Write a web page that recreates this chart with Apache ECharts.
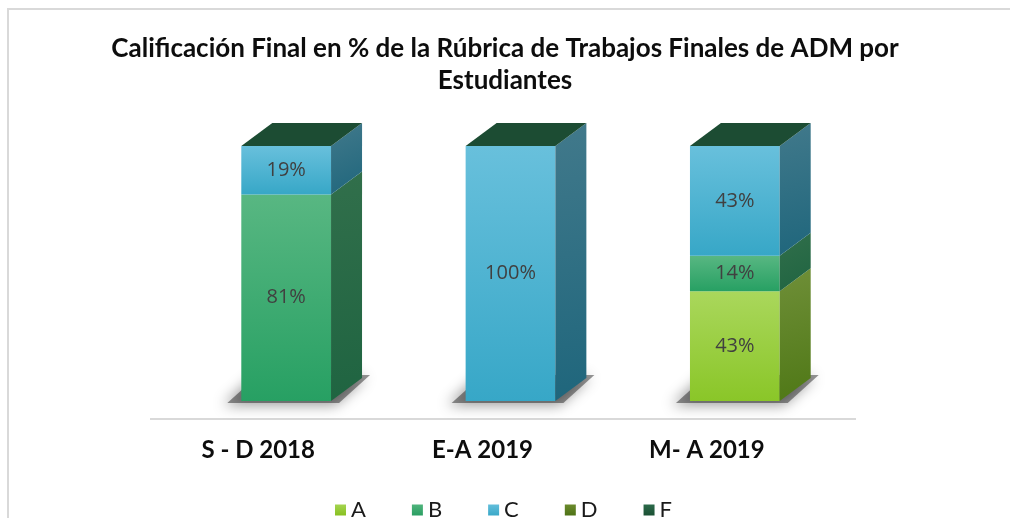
<!DOCTYPE html>
<html>
<head>
<meta charset="utf-8">
<script src="https://cdn.jsdelivr.net/npm/echarts@6/dist/echarts.min.js"></script>
<style>
  html, body { margin: 0; padding: 0; background: #fff; }
  #chart { width: 1010px; height: 518px; }
</style>
</head>
<body>
<div id="chart"></div>
<script>
// datos
const categories = ['S - D 2018', 'E-A 2019', 'M- A 2019'];
const seriesNames = ['A', 'B', 'C', 'D', 'F'];
const valuesA = [0, 0, 43];
const valuesB = [81, 0, 14];
const valuesC = [19, 100, 43];
const valuesD = [0, 0, 0];
const valuesF = [0, 0, 0];
const yTicks = [0, 100];

const allValues = [valuesA, valuesB, valuesC, valuesD, valuesF];

// colores: cara frontal (arriba, abajo), lateral (arriba, abajo), tapa
const palette = [
  { front: ['#aad75c', '#8ac628'], side: ['#6f8f38', '#4f7816'], top: '#6d8f2a', legend: ['#a4d450', '#88c020'] },
  { front: ['#58b782', '#27a063'], side: ['#316f4b', '#1f6441'], top: '#1f6a44', legend: ['#4fb47c', '#2a9e62'] },
  { front: ['#68c0dc', '#37a7c7'], side: ['#41798b', '#1f667c'], top: '#2c6f84', legend: ['#62bedb', '#3aa8c8'] },
  { front: ['#6a8a2c', '#4d7016'], side: ['#4b6a1c', '#3b5810'], top: '#4f6e1a', legend: ['#6b8a2c', '#4e7216'] },
  { front: ['#2a6848', '#1d5238'], side: ['#1c4d34', '#163f2b'], top: '#1c4c33', legend: ['#2b6a4a', '#1b5034'] }
];

const DX = 31;  // profundidad 3D en px
const DY = 23;

const vgrad = (c) => new echarts.graphic.LinearGradient(0, 0, 0, 1, [
  { offset: 0, color: c[0] },
  { offset: 1, color: c[1] }
]);

// acumulados para apilar
const bases = [];
let running = categories.map(() => 0);
allValues.forEach((vals) => {
  bases.push(running.slice());
  running = running.map((r, i) => r + vals[i]);
});

const makeRender = (si) => (params, api) => {
  const cat = api.value(0);
  const base = api.value(1);
  const val = api.value(2);
  const p0 = api.coord([cat, base]);
  const p1 = api.coord([cat, base + val]);
  const band = api.size([1, 0])[0];
  const w = band * 0.4;
  const x0 = p0[0] - w / 2;
  const x1 = p0[0] + w / 2;
  const yb = p0[1];
  const yt = p1[1];
  const pal = palette[si];
  const children = [];

  if (val > 0 && base === 0) {
    // sombra en el piso
    children.push({
      type: 'polygon',
      shape: { points: [[x0 - 14, yb + 2], [x1 + 8, yb + 2], [x1 + DX + 8, yb - DY - 3], [x0 + DX - 14, yb - DY - 3]] },
      style: {
        fill: 'rgba(20,20,20,0.45)',
        shadowBlur: 14,
        shadowColor: 'rgba(0,0,0,0.9)',
        shadowOffsetX: -4,
        shadowOffsetY: 2
      },
      z2: 0
    });
  }

  if (val > 0) {
    children.push({
      type: 'rect',
      shape: { x: x0, y: yt, width: w, height: yb - yt },
      style: { fill: vgrad(pal.front) },
      z2: 2
    });
    children.push({
      type: 'polygon',
      shape: { points: [[x1, yb], [x1, yt], [x1 + DX, yt - DY], [x1 + DX, yb - DY]] },
      style: {
        fill: new echarts.graphic.LinearGradient(0, 0, 1, 1, [
          { offset: 0, color: pal.side[0] },
          { offset: 1, color: pal.side[1] }
        ])
      },
      z2: 2
    });
    children.push({
      type: 'text',
      style: {
        x: (x0 + x1) / 2,
        y: (yb + yt) / 2,
        text: val + '%',
        fill: '#404040',
        font: '20px "Open Sans", sans-serif',
        align: 'center',
        verticalAlign: 'middle'
      },
      z2: 5
    });
  }

  if (si === allValues.length - 1) {
    // tapa superior
    children.push({
      type: 'polygon',
      shape: { points: [[x0, yt], [x1, yt], [x1 + DX, yt - DY], [x0 + DX, yt - DY]] },
      style: { fill: pal.top },
      z2: 3
    });
  }

  return { type: 'group', children };
};

const chart = echarts.init(document.getElementById('chart'));

chart.setOption({
  animation: false,
  title: {
    text: 'Calificación Final en % de la Rúbrica de Trabajos Finales de ADM por\nEstudiantes',
    left: 500,
    textAlign: 'center',
    top: 28,
    textStyle: {
      fontFamily: 'Lato, sans-serif',
      fontWeight: 'bold',
      fontSize: 26,
      lineHeight: 32,
      color: '#0d0d0d'
    }
  },
  legend: {
    data: seriesNames,
    bottom: -8,
    left: 330,
    icon: 'rect',
    itemWidth: 11,
    itemHeight: 11,
    itemGap: 46,
    textStyle: { fontFamily: 'Lato, sans-serif', fontSize: 22, color: '#1a1a1a' }
  },
  grid: { left: 174, right: 163, top: 146, bottom: 117 },
  xAxis: {
    type: 'category',
    data: categories,
    axisLine: { show: false },
    axisTick: { show: false },
    axisLabel: {
      margin: 37,
      padding: [0, 56, 0, 0],
      fontFamily: 'Lato, sans-serif',
      fontWeight: 'bold',
      fontSize: 24,
      color: '#0d0d0d'
    }
  },
  yAxis: {
    type: 'value',
    min: yTicks[0],
    max: yTicks[yTicks.length - 1],
    show: false
  },
  graphic: [
    {
      type: 'rect',
      shape: { x: 8, y: 9, width: 1100, height: 600 },
      style: { fill: 'none', stroke: '#d9d9d9', lineWidth: 2 },
      silent: true
    },
    {
      type: 'line',
      shape: { x1: 150, y1: 419, x2: 856, y2: 419 },
      style: { stroke: '#d9d9d9', lineWidth: 2 },
      silent: true
    }
  ],
  series: allValues.map((vals, si) => ({
    name: seriesNames[si],
    type: 'custom',
    renderItem: makeRender(si),
    itemStyle: { color: vgrad(palette[si].legend) },
    encode: { x: 0, y: [1, 2] },
    data: vals.map((v, i) => [i, bases[si][i], v])
  }))
});
</script>
</body>
</html>
